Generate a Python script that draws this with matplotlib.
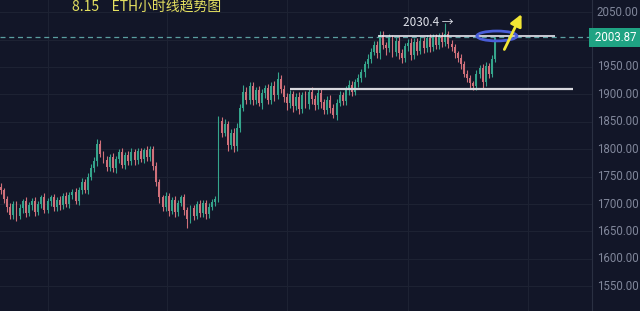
"""
ETH 1h candles, 8.15 trend chart
"""

import matplotlib
matplotlib.use("Agg")
import matplotlib.pyplot as plt
from matplotlib.patches import Ellipse

plt.rcParams["font.family"] = ["Noto Sans CJK SC", "DejaVu Sans"]

BG = "#121628"
GRID = "#1d2233"
UP = "#35a58c"
DOWN = "#d0707a"

# close prices, hourly
closes = [
    1725, 1710, 1695, 1680, 1700, 1678, 1692, 1705, 1684, 1698,
    1706, 1686, 1700, 1712, 1690, 1705, 1712, 1694, 1708, 1698,
    1715, 1700, 1716, 1722, 1706, 1725, 1740, 1726, 1750, 1765,
    1778, 1810, 1792, 1780, 1768, 1785, 1765, 1782, 1795, 1772,
    1790, 1778, 1795, 1780, 1796, 1782, 1798, 1785, 1800, 1770,
    1740, 1712, 1695, 1715, 1688, 1708, 1685, 1702, 1712, 1690,
    1672, 1692, 1678, 1700, 1684, 1702, 1682, 1695, 1704, 1710,
    1852, 1830, 1846, 1808, 1830, 1805, 1838, 1875, 1905, 1890,
    1915, 1890, 1908, 1885, 1902, 1912, 1890, 1915, 1898, 1928,
    1910, 1896, 1884, 1900, 1878, 1896, 1874, 1898, 1882, 1905,
    1892, 1880, 1902, 1886, 1872, 1890, 1876, 1862, 1885, 1898,
    1888, 1908, 1918, 1905, 1922, 1930, 1940, 1955, 1965, 1978,
    1990, 1975, 2008, 1990, 1984, 2002, 1978, 1998, 1975, 1966,
    1988, 1994, 1972, 1996, 1980, 1998, 1984, 2002, 1986, 2004,
    1990, 2006, 1995, 2010, 1992, 1986, 1975, 1966, 1955, 1938,
    1930, 1920, 1915, 1938, 1948, 1922, 1952, 1938, 1965, 2003,
]
first_open = 1732
# wick lengths above / below the body
wick_up = [
    6, 5, 4, 7, 5, 6, 8, 5, 7, 6,
    5, 7, 6, 5, 8, 6, 5, 7, 4, 6,
    5, 7, 6, 5, 8, 6, 7, 5, 6, 8,
    7, 8, 6, 5, 7, 6, 8, 5, 6, 7,
    5, 6, 7, 5, 6, 7, 5, 8, 6, 5,
    7, 6, 5, 7, 6, 5, 7, 6, 5, 6,
    5, 7, 6, 5, 7, 6, 5, 7, 6, 5,
    8, 7, 10, 6, 7, 8, 10, 7, 12, 8,
    7, 8, 6, 7, 8, 6, 7, 8, 10, 12,
    8, 7, 6, 8, 7, 6, 8, 7, 9, 7,
    8, 6, 7, 8, 6, 7, 8, 6, 7, 8,
    6, 7, 8, 7, 6, 8, 7, 6, 8, 7,
    8, 8, 8, 7, 6, 8, 7, 6, 8, 7,
    6, 7, 8, 6, 7, 8, 6, 7, 8, 6,
    7, 6, 8, 20, 6, 7, 6, 5, 7, 6,
    7, 6, 5, 7, 6, 8, 7, 6, 7, 2,
]
wick_down = [
    7, 8, 10, 8, 7, 9, 6, 8, 7, 6,
    8, 7, 6, 8, 7, 6, 8, 7, 6, 8,
    7, 6, 8, 7, 6, 8, 7, 6, 8, 7,
    6, 8, 7, 6, 8, 7, 6, 8, 7, 6,
    8, 7, 6, 8, 7, 6, 8, 7, 6, 8,
    7, 10, 8, 7, 9, 6, 8, 7, 6, 10,
    16, 7, 8, 6, 7, 8, 10, 7, 6, 8,
    7, 8, 6, 12, 7, 10, 8, 7, 6, 8,
    7, 10, 8, 7, 12, 8, 7, 8, 10, 7,
    8, 10, 12, 8, 10, 7, 10, 8, 7, 8,
    10, 8, 7, 10, 8, 7, 10, 5, 8, 7,
    8, 7, 10, 8, 7, 8, 7, 8, 7, 8,
    7, 8, 10, 8, 12, 7, 10, 8, 10, 8,
    7, 8, 10, 7, 8, 7, 8, 7, 8, 7,
    8, 7, 8, 7, 8, 7, 8, 7, 8, 7,
    8, 8, 7, 7, 8, 10, 7, 8, 7, 6,
]

last_price = 2003.87
resist_level = 2007
support_level = 1909
peak_label = "2030.4 →"
price_ticks = [1550, 1600, 1650, 1700, 1750, 1800, 1850, 1900, 1950, 2050]
title = "8.15    ETH小时线趋势图"

opens = [first_open] + closes[:-1]
xs = list(range(len(closes)))

fig = plt.figure(figsize=(6.4, 3.11), dpi=100)
fig.patch.set_facecolor(BG)
ax = fig.add_axes([0, 0, 592 / 640, 1])
ax.set_facecolor(BG)

# candles
for i, o, c, wu, wd in zip(xs, opens, closes, wick_up, wick_down):
    col = UP if c >= o else DOWN
    top = max(o, c)
    bot = min(o, c)
    ax.vlines(i, bot - wd, top + wu, color=col, linewidth=0.8, zorder=3)
    ax.bar(i, max(top - bot, 1.5), bottom=bot, width=0.62, color=col,
           linewidth=0, zorder=3)

ax.set_xlim(-0.3, 190.2)
ax.set_ylim(1504.9, 2072.2)

# grid
ax.set_xticks([15.1, 53.4, 92.1, 131, 169.6])
ax.set_yticks(price_ticks + [2000])
ax.grid(True, color=GRID, linewidth=0.8, zorder=0)
ax.tick_params(axis="x", length=0, labelbottom=False)
ax.yaxis.tick_right()
ax.tick_params(axis="y", length=0, labelright=False)

for p in price_ticks:
    ax.text(1.008, p, f"{p:.2f}", transform=ax.get_yaxis_transform(),
            ha="left", va="center", fontsize=8.3, color="#80869a",
            family=["Roboto", "DejaVu Sans"], clip_on=False)

for side in ["top", "bottom", "left"]:
    ax.spines[side].set_visible(False)
ax.spines["right"].set_color("#2a3042")

# current price line and tag
ax.axhline(last_price, color="#5a9ea0", linewidth=0.9, dashes=(4, 3), zorder=2)
ax.text(1.0, last_price, f" {last_price:.2f} ", transform=ax.get_yaxis_transform(),
        ha="left", va="center", fontsize=8.3, color="white",
        family=["Roboto", "DejaVu Sans"], clip_on=False,
        bbox=dict(boxstyle="square,pad=0.25", facecolor="#1fa383", edgecolor="none"))

# drawn levels
ax.hlines(resist_level, 121.3, 178.3, color="#e8e8f0", linewidth=1.2, zorder=4)
ax.hlines(support_level, 93, 184, color="#d8d8de", linewidth=1.6, zorder=4)

ax.add_patch(Ellipse((159.6, 2006.6), 12.9, 18, fill=False,
                     edgecolor="#4a5ed8", linewidth=2, zorder=5))
ax.annotate("", xy=(167.9, 2051), xytext=(161.6, 1977.4),
            arrowprops=dict(arrowstyle="-|>,head_width=0.35,head_length=0.7",
                            color="#f2e634", linewidth=2),
            zorder=6)

ax.text(129.3, 2030.4, peak_label, ha="left", va="center", fontsize=8.5,
        color="#dfe2ea", zorder=6)

fig.text(72 / 640, 1 - 7 / 311, title, ha="left", va="center",
         fontsize=10, color="#e4e060")

plt.savefig("out.png", dpi=100, facecolor=BG)
plt.close(fig)
